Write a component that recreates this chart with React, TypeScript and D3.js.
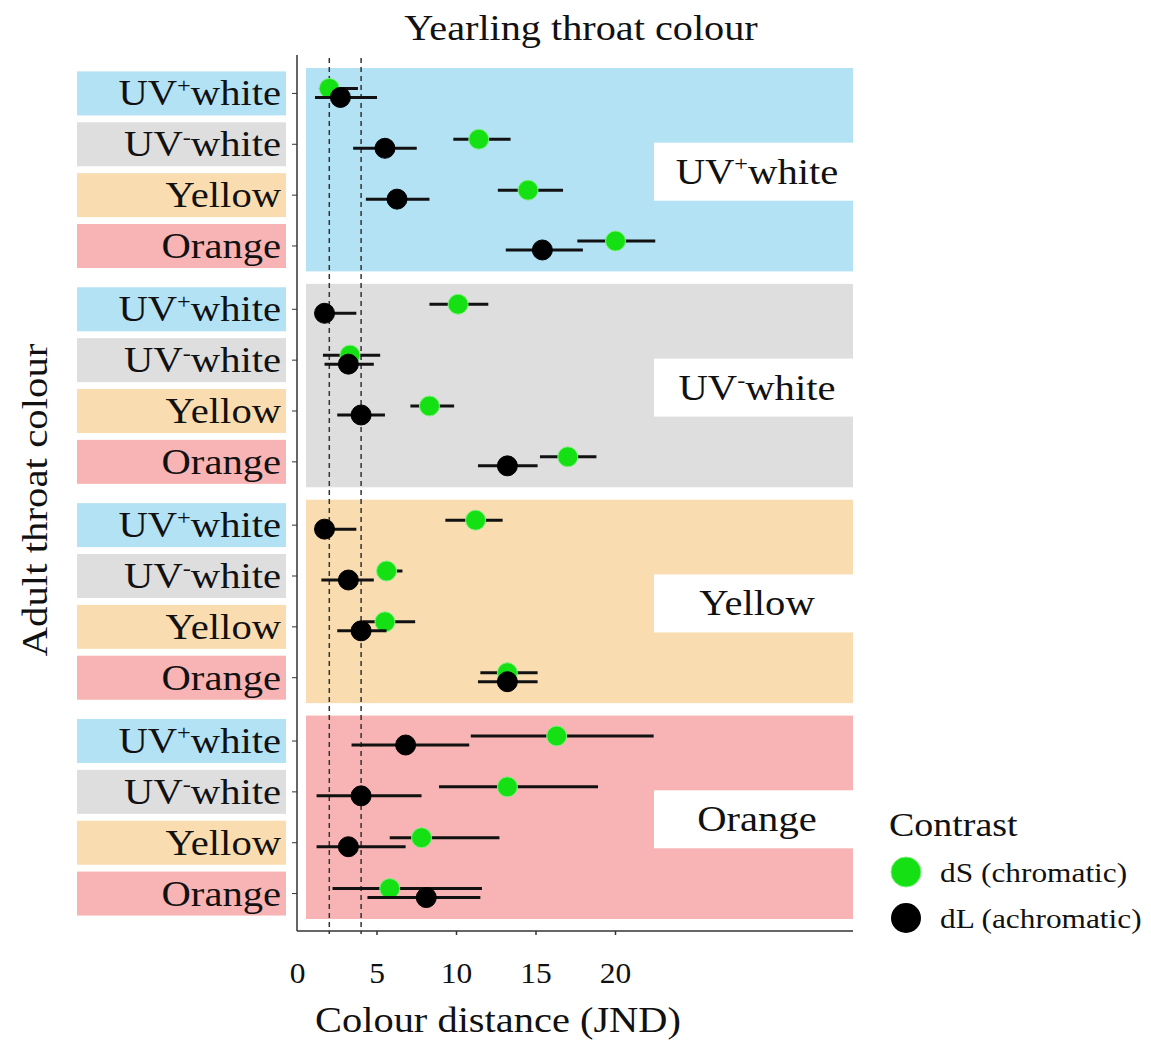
import React from "react";
import * as d3 from "d3";

const panels = ["UV+white", "UV-white", "Yellow", "Orange"];
const rows = ["UV+white", "UV-white", "Yellow", "Orange"];
const panelFill = ["#b3e2f5", "#dedede", "#f9ddb0", "#f8b4b5"];
const xTicks = [0, 5, 10, 15, 20];
const thresholds = [2, 4];

// dS (chromatic), per panel then row
const dSMean = [2.0, 11.4, 14.5, 20.0, 10.1, 3.3, 8.3, 17.0, 11.2, 5.6, 5.5, 13.2, 16.3, 13.2, 7.8, 5.8];
const dSLow = [1.35, 9.8, 12.6, 17.6, 8.3, 1.6, 7.1, 15.25, 9.3, 5.2, 4.1, 11.5, 10.9, 8.9, 5.8, 2.2];
const dSHigh = [3.8, 13.4, 16.7, 22.5, 12.0, 5.2, 9.85, 18.8, 12.9, 6.6, 7.4, 15.1, 22.4, 18.9, 12.7, 11.6];
// dL (achromatic)
const dLMean = [2.7, 5.5, 6.26, 15.4, 1.7, 3.2, 4.0, 13.2, 1.7, 3.2, 4.0, 13.2, 6.8, 4.0, 3.2, 8.1];
const dLLow = [1.1, 3.5, 4.3, 13.1, 1.1, 1.7, 2.5, 11.35, 1.1, 1.5, 2.5, 11.35, 3.4, 1.2, 1.2, 4.4];
const dLHigh = [5.0, 7.5, 8.3, 17.95, 3.7, 4.8, 5.5, 15.1, 3.7, 4.8, 5.6, 15.1, 10.8, 7.8, 6.8, 11.5];

const FONT = "'Liberation Serif', 'Times New Roman', serif";

function T({ x, y, size, sx = 1.16, anchor = "start", rotate = 0, children }: any) {
  return (
    <g transform={`translate(${x},${y}) rotate(${rotate}) scale(${sx},1)`}>
      <text x={0} y={0} textAnchor={anchor} fontFamily={FONT} fontSize={size} fill="#111">
        {children}
      </text>
    </g>
  );
}

function Label({ name, x, y, anchor, size }: { name: string; x: number; y: number; anchor: string; size: number }) {
  if (name.startsWith("UV")) {
    const sign = name[2];
    return (
      <T x={x} y={y} anchor={anchor} size={size}>
        UV
        <tspan fontSize={size * 0.6} dy={-size * 0.36}>{sign === "+" ? "+" : "-"}</tspan>
        <tspan dy={size * 0.36}>white</tspan>
      </T>
    );
  }
  return (
    <T x={x} y={y} anchor={anchor} size={size}>
      {name}
    </T>
  );
}

export default function App() {
  const W = 1151, H = 1041;
  const x = d3.scaleLinear().domain([0, 35]).range([297.5, 854]);
  const py = d3.scaleBand().domain(panels).range([68, 919]).paddingInner(0.0577);
  const bw = py.bandwidth();
  const ry = d3.scaleBand().domain(rows).range([0, bw]);
  const rowC = (p: string, r: string) => (py(p) as number) + (ry(r) as number) + ry.bandwidth() / 2;

  const series = [
    { key: "dS", mean: dSMean, low: dSLow, high: dSHigh, color: "#14e014", stroke: "#7ff07f", off: -5 },
    { key: "dL", mean: dLMean, low: dLLow, high: dLHigh, color: "#000", stroke: "#000", off: 4 },
  ];

  return (
    <svg width={W} height={H} style={{ display: "block", position: "absolute", left: 0, top: 0 }}>
      <rect width={W} height={H} fill="#fff" />
      {/* title */}
      <T x={581} y={40} anchor="middle" size={35} sx={1.15}>Yearling throat colour</T>
      {/* panels */}
      {panels.map((p, i) => (
        <rect key={p} x={306} y={py(p)} width={853 - 306} height={bw} fill={panelFill[i]} />
      ))}
      {/* facet labels */}
      {panels.map((p) => {
        const cy = (py(p) as number) + bw / 2 + 2;
        return (
          <g key={"f" + p}>
            <rect x={654} y={cy - 29} width={853 - 654} height={58} fill="#fff" />
            <Label name={p} x={757} y={cy + 12} anchor="middle" size={35} />
          </g>
        );
      })}
      {/* left row labels */}
      {panels.map((p) =>
        rows.map((r, j) => {
          const c = rowC(p, r);
          return (
            <g key={"l" + p + r}>
              <rect x={77} y={c - 22} width={209} height={44} fill={panelFill[j]} />
              <Label name={r} x={281} y={c + 12} anchor="end" size={35} />
              <line x1={292} x2={297} y1={c} y2={c} stroke="#333" strokeWidth={1} />
            </g>
          );
        })
      )}
      {/* threshold dashed lines */}
      {thresholds.map((t) => (
        <line key={t} x1={x(t)} x2={x(t)} y1={58} y2={934} stroke="#333" strokeWidth={1.5} strokeDasharray="5,4" />
      ))}
      {/* axes */}
      <line x1={297} x2={297} y1={55} y2={931} stroke="#333" strokeWidth={1.5} />
      <line x1={297} x2={853} y1={931} y2={931} stroke="#333" strokeWidth={1.5} />
      {xTicks.map((t) => (
        <g key={"t" + t}>
          {t > 0 && <line x1={x(t)} x2={x(t)} y1={931} y2={935} stroke="#333" strokeWidth={1.5} />}
          <T x={x(t)} y={983} anchor="middle" size={30} sx={1.05}>{t}</T>
        </g>
      ))}
      <T x={498} y={1032} anchor="middle" size={35} sx={1.155}>Colour distance (JND)</T>
      <T x={47} y={500} anchor="middle" size={35} sx={1.167} rotate={-90}>Adult throat colour</T>
      {/* data */}
      {series.map((s) =>
        panels.map((p, i) =>
          rows.map((r, j) => {
            const k = i * 4 + j;
            const cy = rowC(p, r) + s.off;
            return (
              <g key={s.key + k}>
                <line x1={x(s.low[k])} x2={x(s.high[k])} y1={cy} y2={cy} stroke="#111" strokeWidth={3} />
                <circle cx={x(s.mean[k])} cy={cy} r={10} fill={s.color} stroke={s.stroke} strokeWidth={1} />
              </g>
            );
          })
        )
      )}
      {/* legend */}
      <T x={889} y={836} size={33} sx={1.15}>Contrast</T>
      <circle cx={906} cy={872} r={15} fill="#14e014" stroke="#7ff07f" strokeWidth={1} />
      <T x={940} y={882} size={28} sx={1.12}>dS (chromatic)</T>
      <circle cx={906} cy={918} r={15} fill="#000" />
      <T x={940} y={928} size={28} sx={1.12}>dL (achromatic)</T>
    </svg>
  );
}
